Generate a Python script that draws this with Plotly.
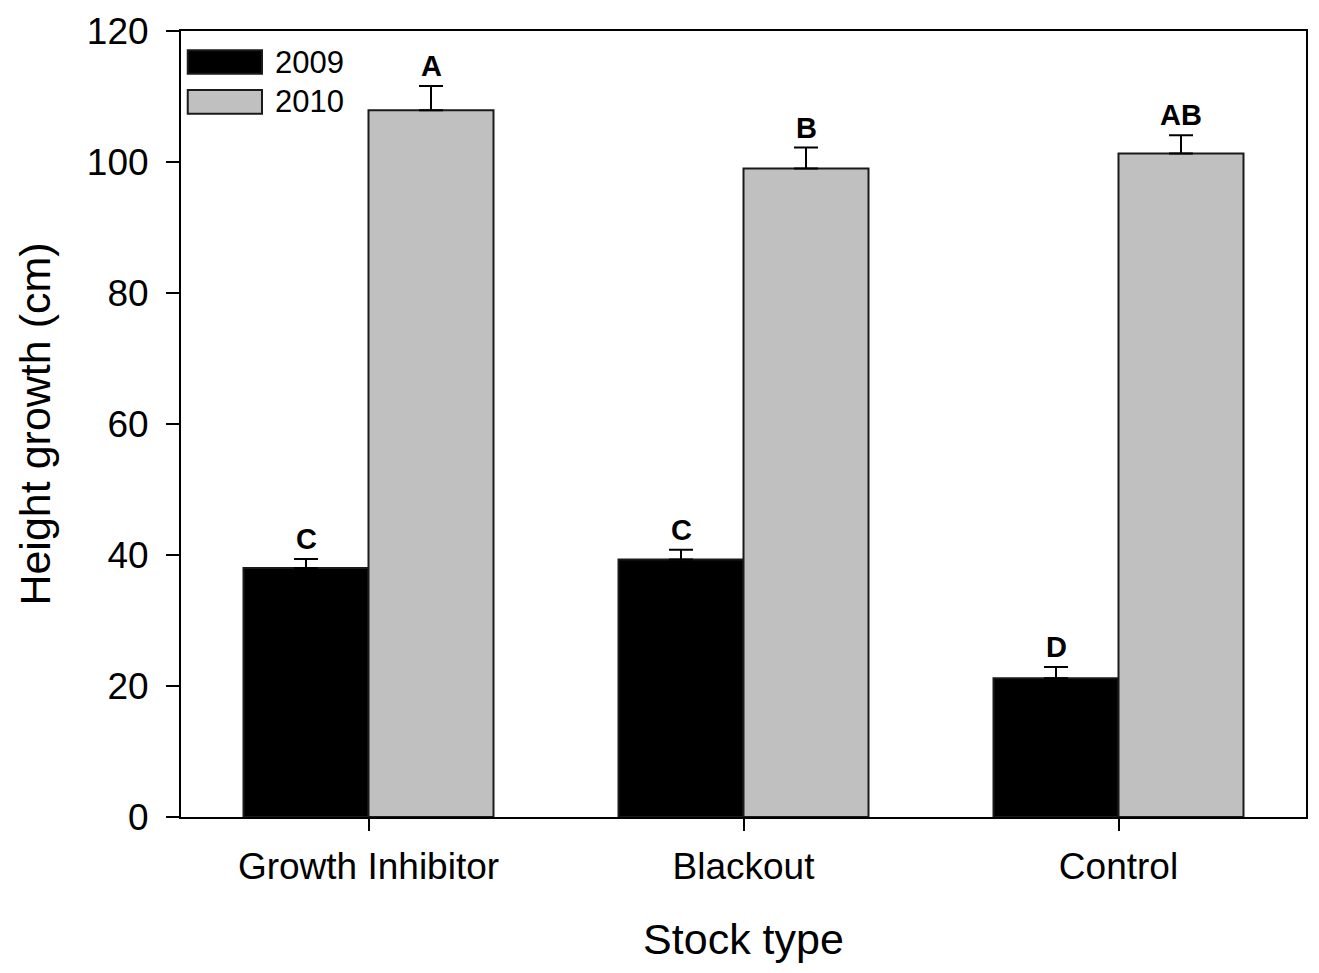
import plotly.graph_objects as go

# Mean height growth (cm) with standard error, by stock type and year
stock_types = ["Growth Inhibitor", "Blackout", "Control"]
growth_2009 = [38.0, 39.3, 21.2]
err_2009 = [1.4, 1.5, 1.7]
growth_2010 = [107.9, 99.0, 101.3]
err_2010 = [3.7, 3.2, 2.8]
letters_2009 = ["C", "C", "D"]
letters_2010 = ["A", "B", "AB"]
y_ticks = [0, 20, 40, 60, 80, 100, 120]

FONT = "Arial, 'Liberation Sans', sans-serif"
EDGE = "#1a1a1a"

fig = go.Figure()
fig.add_trace(go.Bar(
    name="2009", x=stock_types, y=growth_2009,
    marker=dict(color="#000000", line=dict(color=EDGE, width=2)),
    error_y=dict(type="data", array=err_2009, arrayminus=[0] * 3, symmetric=False,
                 color="#000000", thickness=2, width=12),
    showlegend=False,
))
fig.add_trace(go.Bar(
    name="2010", x=stock_types, y=growth_2010,
    marker=dict(color="#c0c0c0", line=dict(color=EDGE, width=2)),
    error_y=dict(type="data", array=err_2010, arrayminus=[0] * 3, symmetric=False,
                 color="#000000", thickness=2, width=12),
    showlegend=False,
))

# Significance letters above each error bar
for i in range(len(stock_types)):
    for off, vals, errs, labs in ((-1 / 6, growth_2009, err_2009, letters_2009),
                                  (1 / 6, growth_2010, err_2010, letters_2010)):
        fig.add_annotation(
            x=i + off, y=vals[i] + errs[i], xref="x", yref="y",
            text=f"<b>{labs[i]}</b>", showarrow=False,
            yanchor="bottom", yshift=2,
            font=dict(family=FONT, size=29, color="#000000"),
        )

# Legend drawn as swatches with labels
legend_items = [("2009", "#000000"), ("2010", "#c0c0c0")]
for k, (lab, col) in enumerate(legend_items):
    y_top = 0.9755 - k * 0.0507
    fig.add_shape(type="rect", xref="paper", yref="paper",
                  x0=0.006, x1=0.072, y0=y_top - 0.030, y1=y_top,
                  fillcolor=col, line=dict(color=EDGE, width=2))
    fig.add_annotation(x=0.082, y=y_top - 0.015, xref="paper", yref="paper",
                       text=lab, showarrow=False, xanchor="left", yanchor="middle",
                       font=dict(family=FONT, size=31, color="#000000"))

fig.update_layout(
    width=1319, height=973,
    margin=dict(l=181, r=11, t=29, b=156),
    paper_bgcolor="white", plot_bgcolor="white",
    barmode="group", bargap=1 / 3, bargroupgap=0,
    font=dict(family=FONT, color="#000000"),
    xaxis=dict(
        range=[-0.5, 2.5], showline=True, linecolor="#000000", linewidth=2, mirror=True,
        ticks="outside", ticklen=12, tickwidth=2, tickcolor="#000000",
        tickfont=dict(size=37), ticklabelstandoff=4, showgrid=False, zeroline=False,
        title=dict(text="Stock type", font=dict(size=43), standoff=37),
    ),
    yaxis=dict(
        range=[0, 120], tickvals=y_ticks, showline=True, linecolor="#000000", linewidth=2,
        mirror=True, ticks="outside", ticklen=13, tickwidth=2, tickcolor="#000000",
        tickfont=dict(size=37), ticklabelstandoff=10, showgrid=False, zeroline=False,
        title=dict(text="Height growth (cm)", font=dict(size=43), standoff=23),
    ),
)

fig.write_html("out.html")
